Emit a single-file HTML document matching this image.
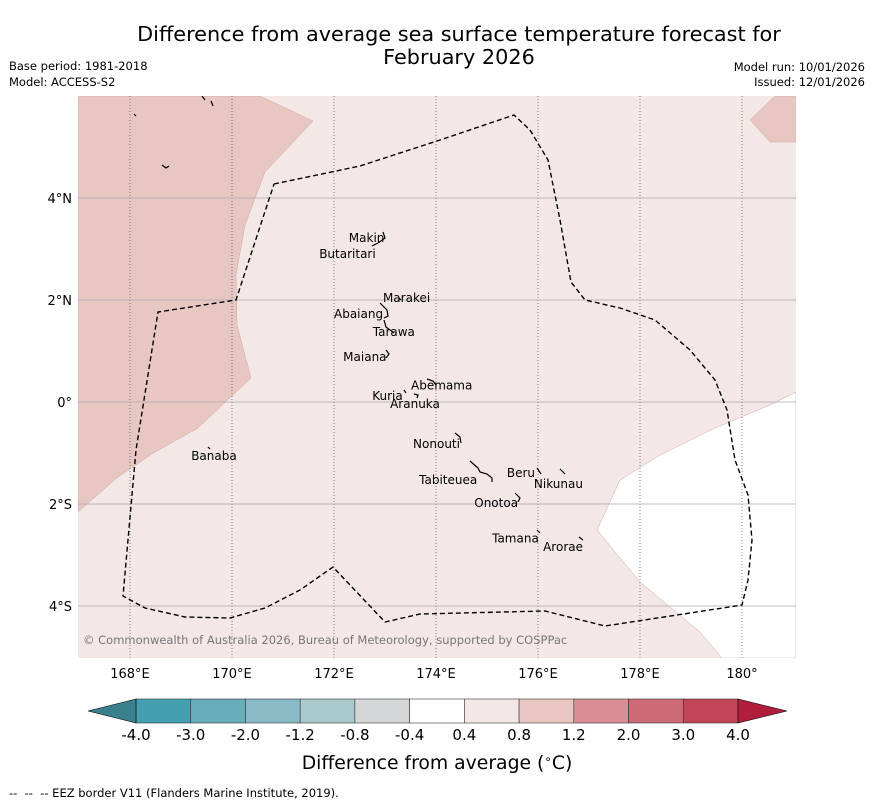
<!DOCTYPE html>
<html><head><meta charset="utf-8"><style>
body{margin:0;background:#fff;width:873px;height:804px;overflow:hidden;font-family:"DejaVu Sans","Liberation Sans",sans-serif;}
svg{display:block}
</style></head><body>
<svg id="chart" width="873" height="804" xmlns="http://www.w3.org/2000/svg" font-family="DejaVu Sans, Liberation Sans, sans-serif">
<text x="459" y="41" font-size="20.8" text-anchor="middle">Difference from average sea surface temperature forecast for</text>
<text x="459" y="64" font-size="20.8" text-anchor="middle">February 2026</text>
<text x="9" y="70" font-size="11.5">Base period: 1981-2018</text>
<text x="9" y="86" font-size="11.5">Model: ACCESS-S2</text>
<text x="865" y="71" font-size="11.5" text-anchor="end">Model run: 10/01/2026</text>
<text x="865" y="86" font-size="11.5" text-anchor="end">Issued: 12/01/2026</text>
<defs><clipPath id="mapclip"><rect x="78" y="96" width="718" height="562"/></clipPath></defs>
<g id="map" clip-path="url(#mapclip)">
<rect x="78" y="96" width="718" height="562" fill="#f4e8e7"/>
<polygon fill="#e8c6c2" stroke="#c9a9a5" stroke-width="0.5" points="78,96 260,96 313,121 265,172 245,225 236,275 237,325 251,378 198,428 155,452 118,477 78,512"/>
<polygon fill="#e8c6c2" stroke="#c9a9a5" stroke-width="0.5" points="775,96 796,96 796,142 770,142 750,120"/>
<polygon fill="#ffffff" stroke="#c9a9a5" stroke-width="0.5" points="796,392 770,405 715,428 660,455 620,480 597,530 640,582 700,632 722,658 796,658"/>
<g id="grid"></g>
<polyline fill="none" stroke="#000" stroke-width="1.4" stroke-dasharray="5,3" points="274,184 360,166 440,140 514,115 530,130 548,160 560,220 571,282 585,300 620,308 655,320 690,350 715,380 727,410 735,460 748,495 752,540 748,580 742,605 690,613 605,626 545,611 420,614 385,622 333,567 300,590 265,608 230,618 185,617 145,608 123,596 136,450 158,312 236,300 274,184"/>
<g fill="none" stroke="#000" stroke-width="1.2">
<path d="M383,232 L385,238 L378,243 L372,246"/><path d="M380,303 L387,310 L388,316 L384,318"/><path d="M384,320 L386,327 L394,333"/>
<path d="M386,350 L389,354 L386,358"/><path d="M427,379 L433,381 L436,385"/><path d="M404,390 L406,393"/><path d="M414,394 L418,395 L417,398"/>
<path d="M455,433 L460,437 L461,443"/><path d="M470,461 L478,468 L480,472 L487,474 L492,478 L492,482"/><path d="M537,468 L541,474"/><path d="M560,469 L565,474"/>
<path d="M515,493 L520,498 L518,502"/><path d="M537,530 L540,533"/><path d="M579,537 L583,540"/><path d="M208,447 L210,449"/>
<path d="M162,165 L166,168 L169,166"/><path d="M134,114 L136,116"/><path d="M202,96 L205,100"/><path d="M211,101 L213,106"/><path d="M399,298 L401,300"/>
</g>
<g id="labels"></g>
<text x="83" y="644" font-size="11.5" fill="#777">© Commonwealth of Australia 2026, Bureau of Meteorology, supported by COSPPac</text>
</g>
<g id="axes"></g>
<g id="colorbar"></g>
<text x="437" y="769" font-size="18.8" text-anchor="middle">Difference from average (<tspan font-size="12" dy="-6">∘</tspan><tspan dy="6">C)</tspan></text>
<text x="9" y="797" font-size="11.5" style="white-space:pre">--  --  -- EEZ border V11 (Flanders Marine Institute, 2019).</text>
</svg>
<script>
const lonTicks=[168,170,172,174,176,178,180];
const lonLabels=["168°E","170°E","172°E","174°E","176°E","178°E","180°"];
const latTicks=[4,2,0,-2,-4];
const latLabels=["4°N","2°N","0°","2°S","4°S"];
const islandNames=["Makin","Butaritari","Marakei","Abaiang","Tarawa","Maiana","Abemama","Kuria","Aranuka","Nonouti","Banaba","Beru","Nikunau","Tabiteuea","Onotoa","Tamana","Arorae"];
const islandLon=[172.29,171.71,172.96,172.0,172.76,172.18,173.51,172.75,173.10,173.55,169.20,175.39,175.92,173.67,174.75,175.10,176.10];
const islandLat=[3.14,2.82,1.96,1.65,1.29,0.80,0.25,0.04,-0.12,-0.90,-1.14,-1.47,-1.69,-1.61,-2.06,-2.75,-2.92];
const cbLevels=["-4.0","-3.0","-2.0","-1.2","-0.8","-0.4","0.4","0.8","1.2","2.0","3.0","4.0"];
const cbColors=["#44a0b1","#68adba","#8abac5","#a9c9cc","#d5d6d8","#ffffff","#f4e8e7","#e8c6c2","#d98e95","#cc6b76","#c14555"];
const cbLow="#3a7f8c", cbHigh="#b11e3b";
const NS="http://www.w3.org/2000/svg";
const px=lon=>130+(lon-168)*51;
const py=lat=>402-lat*51;
function mk(tag,attrs,parent){const e=document.createElementNS(NS,tag);for(const k in attrs)e.setAttribute(k,attrs[k]);parent.appendChild(e);return e;}
const grid=document.getElementById('grid'),axes=document.getElementById('axes'),labels=document.getElementById('labels'),cb=document.getElementById('colorbar');
lonTicks.forEach((l,i)=>{
 const g=mk('line',{x1:px(l),x2:px(l),y1:96,y2:658,stroke:'#555','stroke-width':0.7,'stroke-dasharray':'1,2'},grid);
 
 
 const t=mk('text',{x:px(l),y:678,'font-size':13,'text-anchor':'middle'},axes);t.textContent=lonLabels[i];
 
 
});
latTicks.forEach((l,i)=>{
 const g=mk('line',{x1:78,x2:796,y1:py(l),y2:py(l),stroke:'#aaa','stroke-width':0.8},grid);
 
 
 const t=mk('text',{x:72,y:py(l)+5,'font-size':13,'text-anchor':'end'},axes);t.textContent=latLabels[i];
 
 
});
islandNames.forEach((n,i)=>{
 const t=mk('text',{x:px(islandLon[i]),y:py(islandLat[i]),'font-size':12},labels);t.textContent=n;
 
 
});
const x0=136,x1=738,y0=699,y1=723,w=(x1-x0)/cbColors.length;
cbColors.forEach((c,i)=>{
 const r=mk('rect',{x:x0+i*w,y:y0,width:w,height:y1-y0,fill:c,stroke:'#333','stroke-width':0.6},cb);
 
 
});
const lo=mk('polygon',{points:`${x0},${y0} ${x0},${y1} 88,${(y0+y1)/2}`,fill:cbLow,stroke:'#000','stroke-width':0.6},cb);


const hi=mk('polygon',{points:`${x1},${y0} ${x1},${y1} 787,${(y0+y1)/2}`,fill:cbHigh,stroke:'#000','stroke-width':0.6},cb);


cbLevels.forEach((l,i)=>{
 const t=mk('text',{x:x0+i*w,y:740,'font-size':15,'text-anchor':'middle'},cb);t.textContent=l;
 
 
});
</script>
</body></html>
